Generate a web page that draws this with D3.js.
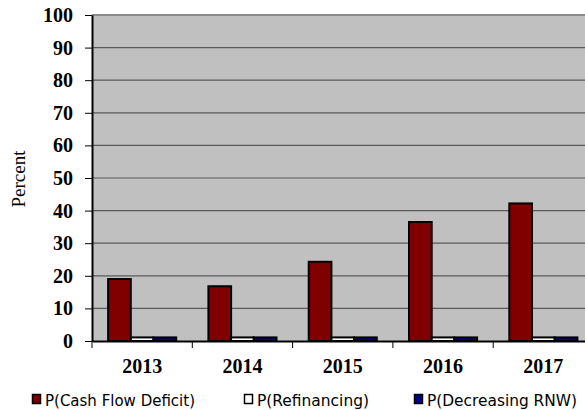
<!DOCTYPE html>
<html>
<head>
<meta charset="utf-8">
<script src="https://cdn.jsdelivr.net/npm/d3@7"></script>
<style>
  html, body { margin: 0; padding: 0; background: #fff; }
  svg { display: block; }
</style>
</head>
<body>
<svg id="chart" width="585" height="410"></svg>
<script>
// Probability of financial stress events by year
const years = ["2013", "2014", "2015", "2016", "2017"];
const seriesNames = ["P(Cash Flow Deficit)", "P(Refinancing)", "P(Decreasing RNW)"];
const cashFlowDeficit = [19.0, 16.8, 24.3, 36.5, 42.2];
const refinancing = [1.1, 1.1, 1.1, 1.1, 1.1];
const decreasingRNW = [1.1, 1.1, 1.1, 1.1, 1.1];
const yTicks = [0, 10, 20, 30, 40, 50, 60, 70, 80, 90, 100];
const seriesColors = ["#800000", "#ffffff", "#000080"];

const seriesValues = [cashFlowDeficit, refinancing, decreasingRNW];

const svg = d3.select("#chart");
const plot = { left: 92, right: 593.5, top: 15, bottom: 341 };
const serif = "'Liberation Serif', 'Times New Roman', serif";

const y = d3.scaleLinear().domain([0, 100]).range([plot.bottom, plot.top]);
const x0 = d3.scaleBand().domain(years).range([plot.left, plot.right]).padding(0);
const x1 = d3.scaleBand().domain(seriesNames).range([0, x0.bandwidth()])
  .paddingInner(0).paddingOuter(0.71);

// plot background
svg.append("rect")
  .attr("x", plot.left).attr("y", plot.top)
  .attr("width", plot.right - plot.left).attr("height", plot.bottom - plot.top)
  .attr("fill", "#c0c0c0");

// gridlines
svg.append("g").selectAll("line")
  .data(yTicks.filter(d => d > 0))
  .join("line")
  .attr("x1", plot.left).attr("x2", plot.right)
  .attr("y1", d => y(d)).attr("y2", d => y(d))
  .attr("stroke", d => d === 100 ? "#8a8a8a" : "#5a5a5a")
  .attr("stroke-width", d => d === 100 ? 2 : 1.2);

// bars
const groups = svg.append("g").selectAll("g")
  .data(years)
  .join("g")
  .attr("transform", d => `translate(${x0(d)},0)`);

groups.selectAll("rect")
  .data((yr, i) => seriesNames.map((s, k) => ({ s, k, v: seriesValues[k][i] })))
  .join("rect")
  .attr("x", d => x1(d.s))
  .attr("width", x1.bandwidth())
  .attr("y", d => y(d.v))
  .attr("height", d => y(0) - y(d.v))
  .attr("fill", d => seriesColors[d.k])
  .attr("stroke", "#000")
  .attr("stroke-width", 2);

// y axis
const yAxis = d3.axisLeft(y).tickValues(yTicks).tickSize(7).tickSizeOuter(0).tickPadding(12);
const gy = svg.append("g").attr("transform", `translate(${plot.left},0)`).call(yAxis);
gy.select(".domain").attr("stroke", "#000").attr("stroke-width", 2);
gy.selectAll(".tick line").attr("stroke", "#000");
gy.selectAll("text")
  .attr("font-family", serif)
  .attr("font-weight", "bold").attr("font-size", 20).attr("fill", "#000");

// x axis
const xAxis = d3.axisBottom(x0).tickSize(0).tickPadding(18);
const gx = svg.append("g").attr("transform", `translate(0,${plot.bottom})`).call(xAxis);
gx.select(".domain").attr("stroke", "#000").attr("stroke-width", 2);
gx.selectAll("text")
  .attr("font-family", serif)
  .attr("font-weight", "bold").attr("font-size", 20).attr("fill", "#000");

// category boundary ticks
svg.append("g").selectAll("line")
  .data(years.concat(["end"]))
  .join("line")
  .attr("x1", d => d === "end" ? plot.right : x0(d))
  .attr("x2", d => d === "end" ? plot.right : x0(d))
  .attr("y1", plot.bottom).attr("y2", plot.bottom + 7)
  .attr("stroke", "#000").attr("stroke-width", 1);

// y axis title
svg.append("text")
  .attr("transform", "translate(25,179) rotate(-90)")
  .attr("text-anchor", "middle")
  .attr("font-family", serif)
  .attr("font-size", 19)
  .text("Percent");

// legend
const legendX = [32, 244, 414];
const legendTextWidth = [150, 112, 150];
const legend = svg.append("g").selectAll("g")
  .data(seriesNames)
  .join("g")
  .attr("transform", (d, i) => `translate(${legendX[i]},394)`);
legend.append("rect")
  .attr("x", 0.5).attr("y", 0.5).attr("width", 8).attr("height", 9)
  .attr("fill", (d, i) => seriesColors[i])
  .attr("stroke", "#000").attr("stroke-width", 1.5);
legend.append("text")
  .attr("x", 13).attr("y", 11.5)
  .attr("font-family", "'DejaVu Sans', Verdana, sans-serif")
  .attr("font-size", 15)
  .attr("textLength", (d, i) => legendTextWidth[i])
  .attr("lengthAdjust", "spacingAndGlyphs")
  .text(d => d);
</script>
</body>
</html>
